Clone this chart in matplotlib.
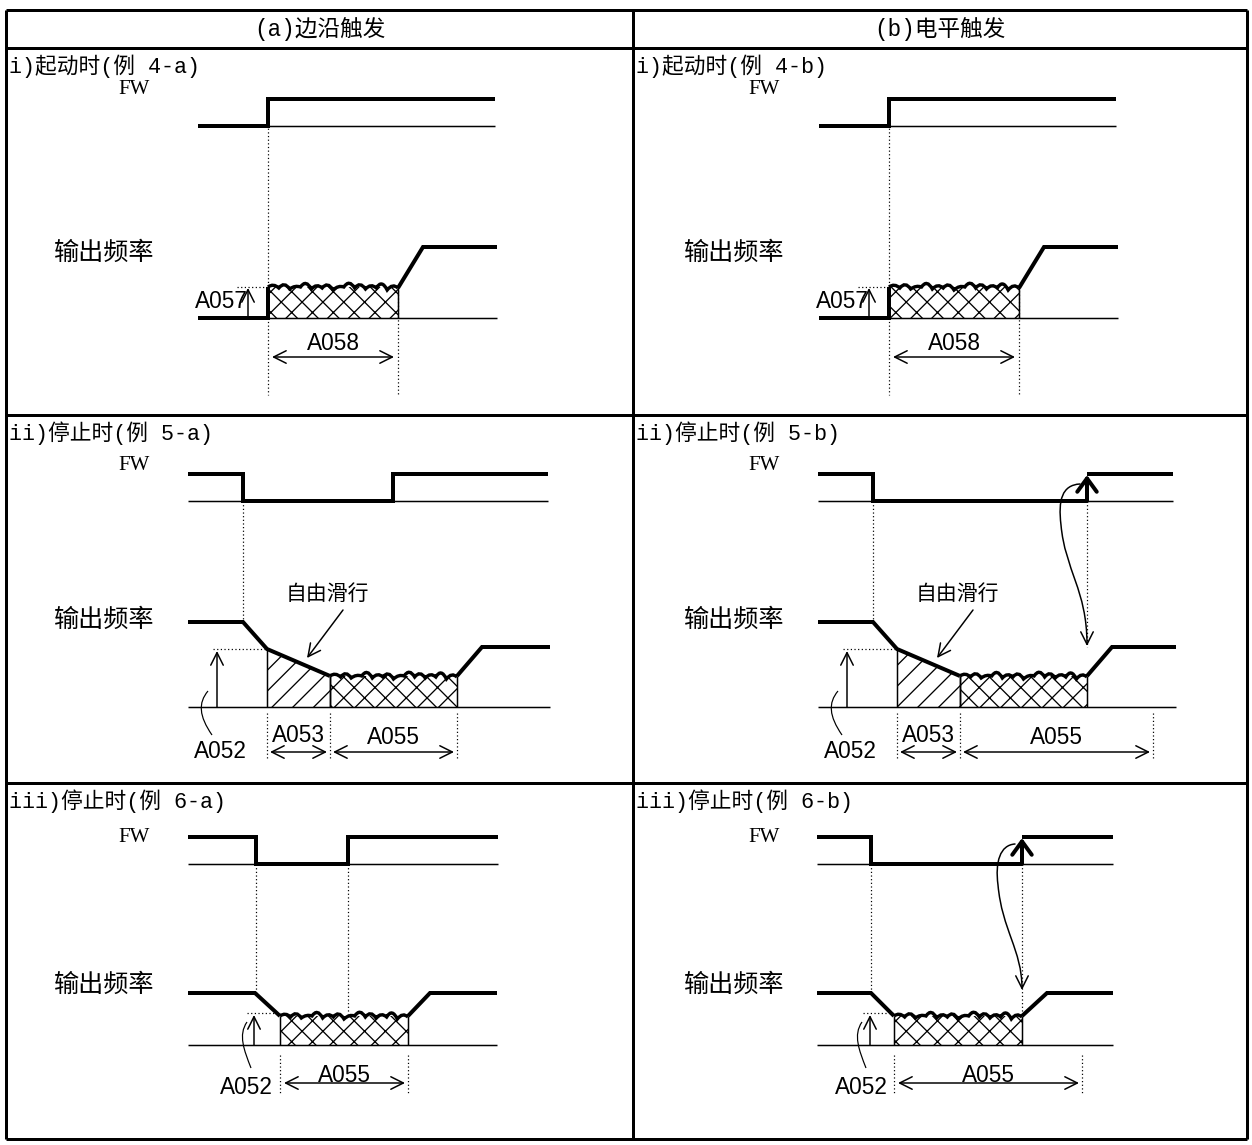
import numpy as np
import matplotlib
matplotlib.use("Agg")
import matplotlib.pyplot as plt
from matplotlib.path import Path
from matplotlib.patches import PathPatch, FancyArrowPatch

# ─────────────────────────────────────────────
# Canvas (all drawing in pixel units of the 1252x1145 page)
# ─────────────────────────────────────────────
DPI = 125
W, H = 1252, 1145
PT = 72 / DPI            # points per pixel

THICK = 4.0 * PT
THIN = 1.5 * PT
FRAME = 3.0 * PT

CJK = ["Noto Sans CJK SC", "DejaVu Sans"]
MIXED = ["Liberation Mono", "Noto Sans CJK SC", "DejaVu Sans"]
SERIF = ["Liberation Serif", "DejaVu Serif"]
NARROW = ["Liberation Sans Narrow", "Liberation Sans", "DejaVu Sans"]

# ─────────────────────────────────────────────
# Table layout and texts
# ─────────────────────────────────────────────
TABLE_X = [6, 633, 1247]
TABLE_Y = [10, 48, 415, 783, 1139]
HEADERS = ["(a)边沿触发", "(b)电平触发"]
TITLES_A = ["i)起动时(例 4-a)", "ii)停止时(例 5-a)", "iii)停止时(例 6-a)"]
TITLES_B = ["i)起动时(例 4-b)", "ii)停止时(例 5-b)", "iii)停止时(例 6-b)"]
FW_LABEL_Y = [90, 465, 838]
OUT_LABEL_Y = [253, 620, 985]
COL_SHIFT = [0, 630]

# ─────────────────────────────────────────────
# Waveform data (time = x px, level = y px)
# ─────────────────────────────────────────────
# row i : start  -> FW on, DC brake at start (A057 level, A058 time), accel
R1_FW_T = [198, 268, 495]                 # start, FW on, end
R1_FW_Y = [99, 126]                       # FW high, FW low
R1_OUT_T = [198, 268, 398, 423, 497]      # start, brake start, brake end, accel end, end
R1_OUT_Y = [247, 287, 318]                # running, A057 level, zero
R1_SHIFT = [0, 621]

# row ii : stop -> free run (A053) then DC brake (A055)
R2A_FW_T = [188, 243, 393, 548]           # start, FW off, FW on, end
R2B_FW_T = [818, 873, 1087, 1173]
R2_FW_Y = [474, 501]
R2A_OUT_T = [188, 243, 267, 330, 457, 482, 550]
R2B_OUT_T = [818, 873, 897, 960, 1087, 1112, 1176]
R2_OUT_Y = [622, 622, 649, 676, 676, 647, 647]
R2_ZERO = 707
R2B_A055_END = 1153

# row iii : stop -> DC brake directly (A055)
R3A_FW_T = [188, 256, 348, 498]
R3B_FW_T = [817, 871, 1022, 1113]
R3_FW_Y = [837, 864]
R3A_OUT_T = [188, 255, 280, 408, 430, 497]
R3B_OUT_T = [817, 871, 894, 1022, 1047, 1113]
R3_OUT_Y = [993, 993, 1016, 1016, 993, 993]
R3_ZERO = 1045
R3B_A055_END = 1082

# ripple of the braking trace (bump heights / dips, px)
RIPPLE = [3, 4, 2, 5, 3, 4, 2, 5, 4, 3, 5, 3]
DIPS = [1, 2, 0, 2, 1, 3, 0, 1, 2, 1, 3, 1]

fig = plt.figure(figsize=(W / DPI, H / DPI), dpi=DPI)
ax = fig.add_axes([0, 0, 1, 1])
ax.set_xlim(0, W)
ax.set_ylim(H, 0)
ax.axis("off")
plt.rcParams["hatch.linewidth"] = 0.75


def line(xs, ys, lw=THIN, z=2):
    ax.plot(xs, ys, color="k", lw=lw, solid_joinstyle="miter",
            solid_capstyle="butt", zorder=z)


def dotted(x0, y0, x1, y1):
    ax.plot([x0, x1], [y0, y1], color="k", lw=0.7, ls=(0, (1, 2)), zorder=2)


def wave(x0, x1, base):
    xs = np.linspace(x0, x1, len(RIPPLE) + 1)
    verts, codes = [(x0, base)], [Path.MOVETO]
    for i, b in enumerate(RIPPLE):
        verts += [((xs[i] + xs[i + 1]) / 2, base - 2 * b + 2), (xs[i + 1], base + DIPS[i])]
        codes += [Path.CURVE3, Path.CURVE3]
    ax.add_patch(PathPatch(Path(verts, codes), fill=False, lw=THICK * 0.85,
                           edgecolor="k", zorder=3))


def hatch_area(xs, tops, zero, pattern):
    ax.fill_between(xs, tops, zero, facecolor="none", edgecolor="k",
                    hatch=pattern, lw=0, zorder=1)
    line([xs[0], xs[0]], [tops[0], zero], lw=THIN)
    line([xs[-1], xs[-1]], [tops[-1], zero], lw=THIN)


def arrow(x0, y0, x1, y1, style="->", lw=THIN, ms=12, hl=0.6, hw=0.3):
    ax.annotate("", xy=(x1, y1), xytext=(x0, y0),
                arrowprops=dict(arrowstyle=f"{style},head_length={hl},head_width={hw}",
                                lw=lw, color="k", shrinkA=0, shrinkB=0,
                                mutation_scale=ms), zorder=3)


def dim(x0, x1, y, label, ly):
    arrow(x0, y, x1, y, style="<->")
    ax.text((x0 + x1) / 2, ly, label, family=NARROW, fontsize=13, ha="center",
            va="center", zorder=4)


def leader(p0, p1, p2, p3):
    ax.add_patch(PathPatch(Path([p0, p1, p2, p3], [Path.MOVETO] + [Path.CURVE4] * 3),
                           fill=False, lw=THIN * 0.8, edgecolor="k", zorder=3))


def a052(x_arrow, top, zero, x_dot0, x_dot1):
    arrow(x_arrow, zero, x_arrow, top + 2)
    dotted(x_dot0, top, x_dot1, top)


def fw_arrow(x, lo, hi):
    arrow(x, lo, x, hi + 1, style="->", lw=THICK, ms=14, hl=0.55, hw=0.4)


# ─────────────────────────────────────────────
# Table frame and texts
# ─────────────────────────────────────────────
for x in TABLE_X:
    line([x, x], [TABLE_Y[0], TABLE_Y[-1]], lw=FRAME)
for y in TABLE_Y:
    line([TABLE_X[0], TABLE_X[-1]], [y, y], lw=FRAME)

for c in range(2):
    ax.text((TABLE_X[c] + TABLE_X[c + 1]) / 2, (TABLE_Y[0] + TABLE_Y[1]) / 2,
            HEADERS[c], family=MIXED, fontsize=13, ha="center", va="center")
    titles = TITLES_A if c == 0 else TITLES_B
    for r in range(3):
        ax.text(TABLE_X[c] + 3, TABLE_Y[r + 1] + 18, titles[r], family=MIXED,
                fontsize=12.5, ha="left", va="center")
        ax.text(134 + COL_SHIFT[c], FW_LABEL_Y[r], "FW", family=SERIF,
                fontsize=12, ha="center", va="center")
        ax.text(104 + COL_SHIFT[c], OUT_LABEL_Y[r], "输出频率", family=CJK,
                fontsize=14.5, ha="center", va="center")

# ─────────────────────────────────────────────
# Row i : starting
# ─────────────────────────────────────────────
for dx in R1_SHIFT:
    t0, ton, tend = [t + dx for t in R1_FW_T]
    hi, lo = R1_FW_Y
    line([ton, tend], [lo, lo])
    line([t0, ton, ton, tend], [lo, lo, hi, hi], lw=THICK, z=3)

    o0, on, bend, aend, oend = [t + dx for t in R1_OUT_T]
    run, brk, zero = R1_OUT_Y
    line([on, oend], [zero, zero])
    hatch_area([on, bend], [brk, brk], zero, "xx")
    line([o0, on, on], [zero, zero, brk], lw=THICK, z=3)
    wave(on, bend, brk)
    line([bend, aend, oend], [brk + 1, run, run], lw=THICK, z=3)

    dotted(on, hi, on, 395)
    dotted(bend, brk, bend, 395)
    dotted(237 + dx, brk, on, brk)
    arrow(248 + dx, zero, 248 + dx, brk + 1)
    ax.text(221 + dx, 302, "A057", family=NARROW, fontsize=13, ha="center", va="center")
    dim(on + 4, bend - 4, 357, "A058", 343)

# ─────────────────────────────────────────────
# Row ii : stopping with free run
# ─────────────────────────────────────────────
for c, (fw_t, out_t) in enumerate([(R2A_FW_T, R2A_OUT_T), (R2B_FW_T, R2B_OUT_T)]):
    dx = COL_SHIFT[c]
    hi, lo = R2_FW_Y
    t0, toff, ton, tend = fw_t
    line([t0, tend], [lo, lo])
    if c == 0:
        line([t0, toff, toff, ton, ton, tend], [hi, hi, lo, lo, hi, hi], lw=THICK, z=3)
    else:
        line([t0, toff, toff, ton], [hi, hi, lo, lo], lw=THICK, z=3)
        line([ton, tend], [hi, hi], lw=THICK, z=3)
        fw_arrow(ton, lo, hi)

    xs, ys = out_t, R2_OUT_Y
    line([xs[0], xs[-1]], [R2_ZERO, R2_ZERO])
    hatch_area([xs[2], xs[3]], [ys[2], ys[3]], R2_ZERO, "//")
    hatch_area([xs[3], xs[4]], [ys[3], ys[4]], R2_ZERO, "xx")
    line(xs[:4], ys[:4], lw=THICK, z=3)
    wave(xs[3], xs[4], ys[3])
    line(xs[4:], ys[4:], lw=THICK, z=3)

    dotted(toff, lo, toff, ys[0])
    if c == 1:
        dotted(ton, lo, ton, ys[5])
    end55 = xs[4] if c == 0 else R2B_A055_END
    for x in [xs[2], xs[3], end55]:
        dotted(x, 713, x, 760)

    a052(217 + dx, ys[2], R2_ZERO, 213 + dx, xs[2])
    leader((212 + dx, 735), (199 + dx, 716), (198 + dx, 703), (208 + dx, 691))
    ax.text(220 + dx, 751, "A052", family=NARROW, fontsize=13, ha="center", va="center")

    ax.text(xs[3] - 3, 594, "自由滑行", family=CJK, fontsize=12, ha="center", va="center")
    arrow(343 + dx, 610, 307 + dx, 658)

    dim(xs[2] + 3, xs[3] - 3, 752, "A053", 735)
    dim(xs[3] + 3, end55 - 3, 752, "A055", 737)

# FW -> output curved pointer (level trigger)
ax.add_patch(FancyArrowPatch(
    path=Path([(1080, 484), (1062, 485), (1058, 500), (1061, 525),
               (1065, 570), (1087, 590), (1087, 646)],
              [Path.MOVETO] + [Path.CURVE4] * 6),
    arrowstyle="->,head_length=0.6,head_width=0.3", mutation_scale=12,
    lw=THIN, color="k", zorder=3))

# ─────────────────────────────────────────────
# Row iii : stopping with DC braking
# ─────────────────────────────────────────────
for c, (fw_t, out_t) in enumerate([(R3A_FW_T, R3A_OUT_T), (R3B_FW_T, R3B_OUT_T)]):
    dx = 0 if c == 0 else 615
    hi, lo = R3_FW_Y
    t0, toff, ton, tend = fw_t
    line([t0, tend], [lo, lo])
    if c == 0:
        line([t0, toff, toff, ton, ton, tend], [hi, hi, lo, lo, hi, hi], lw=THICK, z=3)
    else:
        line([t0, toff, toff, ton], [hi, hi, lo, lo], lw=THICK, z=3)
        line([ton, tend], [hi, hi], lw=THICK, z=3)
        fw_arrow(ton, lo, hi)

    xs, ys = out_t, R3_OUT_Y
    line([xs[0], xs[-1]], [R3_ZERO, R3_ZERO])
    hatch_area([xs[2], xs[3]], [ys[2], ys[3]], R3_ZERO, "xx")
    line(xs[:3], ys[:3], lw=THICK, z=3)
    wave(xs[2], xs[3], ys[2])
    line(xs[3:], ys[3:], lw=THICK, z=3)

    dotted(toff, lo, toff, ys[0])
    dotted(ton, lo, ton, ys[2] - 2)
    end55 = xs[3] if c == 0 else R3B_A055_END
    for x in [xs[2], end55]:
        dotted(x, 1055, x, 1093)

    a052(xs[1] - 1, ys[2] - 3, R3_ZERO, xs[1] - 8, xs[2])
    leader((251 + dx, 1068), (244 + dx, 1050), (238 + dx, 1035), (247 + dx, 1022))
    ax.text(246 + dx, 1087, "A052", family=NARROW, fontsize=13, ha="center", va="center")
    dim(xs[2] + 4, end55 - 3, 1083, "A055", 1075)

ax.add_patch(FancyArrowPatch(
    path=Path([(1015, 844), (1000, 845), (995, 862), (998, 885),
               (1002, 930), (1022, 950), (1022, 990)],
              [Path.MOVETO] + [Path.CURVE4] * 6),
    arrowstyle="->,head_length=0.6,head_width=0.3", mutation_scale=12,
    lw=THIN, color="k", zorder=3))

fig.savefig("out.png", dpi=DPI, facecolor="white")
